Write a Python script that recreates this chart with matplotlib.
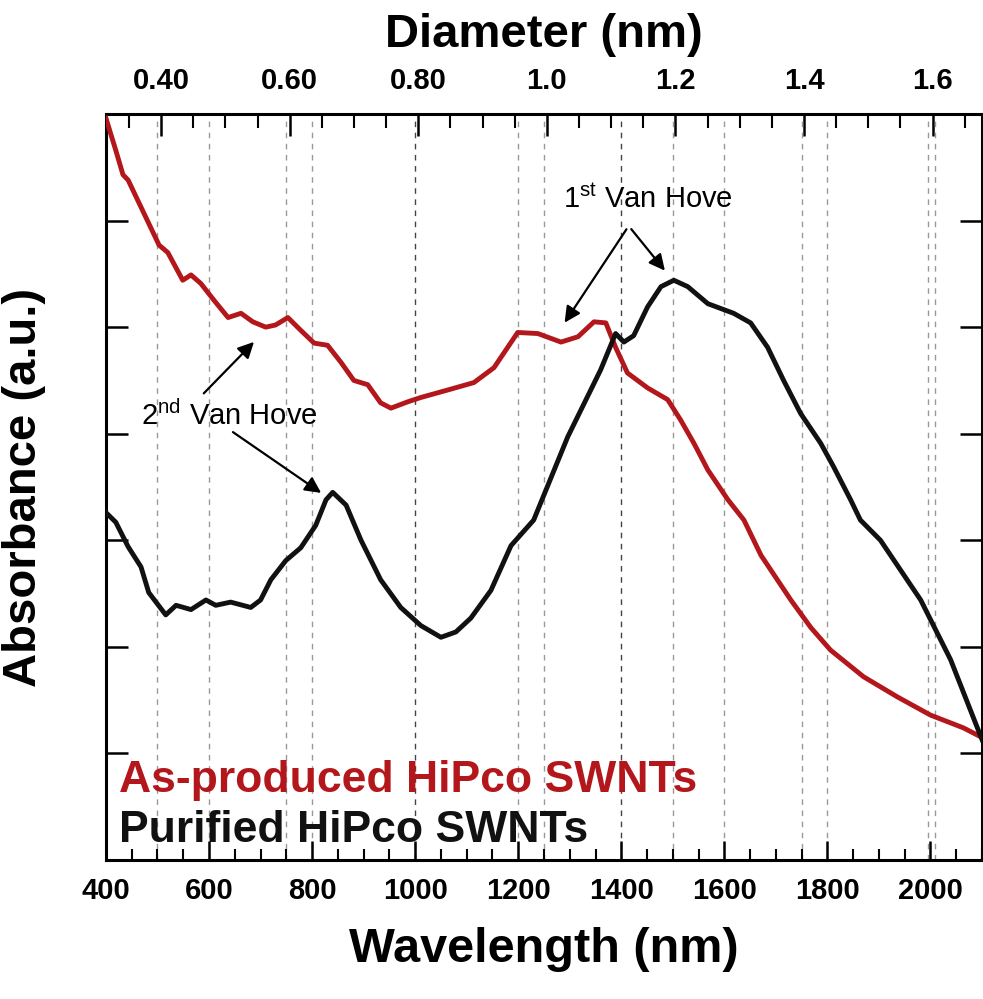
import numpy as np
import matplotlib
matplotlib.use('Agg')
import matplotlib.pyplot as plt
from matplotlib.ticker import MultipleLocator

plt.rcParams['font.family'] = ['Liberation Sans', 'DejaVu Sans']

# As-produced HiPco SWNTs (red)
red_wl = [400, 419, 433, 443, 503, 520, 549, 565, 584, 610, 637, 662, 685, 710, 729,
          753, 778, 804, 830, 856, 881, 908, 933, 953, 986, 1011, 1063, 1114, 1153,
          1199, 1238, 1283, 1316, 1347, 1370, 1389, 1412, 1451, 1490, 1515, 1541,
          1568, 1607, 1638, 1671, 1729, 1768, 1806, 1870, 1936, 2000, 2064, 2100]
red_abs = [6.96, 6.66, 6.43, 6.38, 5.77, 5.70, 5.44, 5.49, 5.41, 5.25, 5.09, 5.13, 5.05,
           5.00, 5.02, 5.09, 4.97, 4.85, 4.83, 4.67, 4.50, 4.46, 4.29, 4.24, 4.30, 4.34,
           4.41, 4.48, 4.62, 4.95, 4.94, 4.86, 4.91, 5.05, 5.04, 4.81, 4.57, 4.43, 4.32,
           4.13, 3.91, 3.66, 3.38, 3.19, 2.86, 2.44, 2.18, 1.97, 1.72, 1.53, 1.36, 1.24,
           1.15]

# Purified HiPco SWNTs (black)
blk_wl = [400, 419, 443, 468, 483, 516, 536, 565, 594, 613, 642, 681, 700, 720, 749,
          778, 807, 827, 840, 866, 895, 933, 972, 1011, 1050, 1079, 1108, 1147, 1186,
          1230, 1296, 1360, 1389, 1405, 1424, 1451, 1477, 1502, 1529, 1568, 1618,
          1651, 1684, 1715, 1748, 1787, 1812, 1845, 1864, 1903, 1981, 2039, 2100]
blk_abs = [3.26, 3.17, 2.94, 2.75, 2.51, 2.30, 2.39, 2.35, 2.44, 2.39, 2.42, 2.37, 2.44,
           2.63, 2.81, 2.93, 3.14, 3.38, 3.45, 3.33, 3.00, 2.63, 2.37, 2.20, 2.09, 2.14,
           2.27, 2.53, 2.95, 3.19, 3.97, 4.60, 4.94, 4.86, 4.92, 5.19, 5.38, 5.44, 5.38,
           5.22, 5.13, 5.04, 4.81, 4.50, 4.19, 3.91, 3.69, 3.38, 3.19, 3.00, 2.44, 1.88,
           1.13]

# vertical guide lines (nm)
guide_wl = [500, 600, 750, 800, 1000, 1200, 1250, 1400, 1500, 1600, 1750, 1800, 1995, 2008]
dark_guides = [1000, 1400]

top_ticks = [0.40, 0.60, 0.80, 1.0, 1.2, 1.4, 1.6]
top_labels = ['0.40', '0.60', '0.80', '1.0', '1.2', '1.4', '1.6']
bottom_ticks = [400, 600, 800, 1000, 1200, 1400, 1600, 1800, 2000]


def d2wl(d):
    return 1247.5 * np.asarray(d) + 8.0


def wl2d(w):
    return (np.asarray(w) - 8.0) / 1247.5


fig = plt.figure(figsize=(9.83, 9.99), dpi=100)
ax = fig.add_axes([0.1078, 0.1391, 0.8912, 0.7468])

for w in guide_wl:
    c = '#444444' if w in dark_guides else '#999999'
    ax.axvline(w, color=c, lw=1.0, ls=(0, (4, 4)), zorder=1)

ax.plot(red_wl, red_abs, color='#b3171b', lw=3.5, zorder=3)
ax.plot(blk_wl, blk_abs, color='#111111', lw=3.5, zorder=4)

ax.set_xlim(400, 2100)
ax.set_ylim(0, 7)
ax.set_xticks(bottom_ticks)
ax.xaxis.set_minor_locator(MultipleLocator(50))
ax.set_yticks([1, 2, 3, 4, 5, 6])
ax.set_yticklabels([])
ax.tick_params(axis='x', which='major', direction='in', length=14, width=1.8,
               labelsize=21, pad=12)
ax.tick_params(axis='x', which='minor', direction='in', length=8, width=1.5)
ax.tick_params(axis='y', which='major', direction='in', length=16, width=1.8,
               left=True, right=True)
for lab in ax.get_xticklabels():
    lab.set_fontweight('bold')
for s in ax.spines.values():
    s.set_linewidth(2.2)

secax = ax.secondary_xaxis('top', functions=(wl2d, d2wl))
secax.set_xticks(top_ticks)
secax.set_xticklabels(top_labels, fontsize=21, fontweight='bold')
secax.xaxis.set_minor_locator(MultipleLocator(0.05))
secax.tick_params(axis='x', which='major', direction='in', length=16, width=1.8, pad=14)
secax.tick_params(axis='x', which='minor', direction='in', length=10, width=1.5)
secax.set_xlabel('Diameter (nm)', fontsize=34, fontweight='bold', labelpad=14)

ax.set_xlabel('Wavelength (nm)', fontsize=35, fontweight='bold', labelpad=16)
ax.set_ylabel('Absorbance (a.u.)', fontsize=34, fontweight='bold', labelpad=40)

ax.text(0.015, 0.107, 'As-produced HiPco SWNTs', transform=ax.transAxes,
        color='#b3171b', fontsize=32, fontweight='bold', va='center', ha='left')
ax.text(0.015, 0.04, 'Purified HiPco SWNTs', transform=ax.transAxes,
        color='#111111', fontsize=32, fontweight='bold', va='center', ha='left')

arrow = dict(arrowstyle='-|>', color='black', lw=1.6, mutation_scale=24)
ax.text(640, 4.17, r'2$^{\mathregular{nd}}$ Van Hove', fontsize=21, ha='center',
        va='center')
ax.annotate('', xy=(691, 4.88), xytext=(586, 4.36), arrowprops=arrow)
ax.annotate('', xy=(822, 3.43), xytext=(642, 4.03), arrowprops=arrow)

ax.text(1451, 6.20, r'1$^{\mathregular{st}}$ Van Hove', fontsize=21, ha='center',
        va='center')
ax.annotate('', xy=(1287, 5.02), xytext=(1413, 5.94), arrowprops=arrow)
ax.annotate('', xy=(1488, 5.51), xytext=(1416, 5.94), arrowprops=arrow)

fig.savefig('out.png', dpi=100)
